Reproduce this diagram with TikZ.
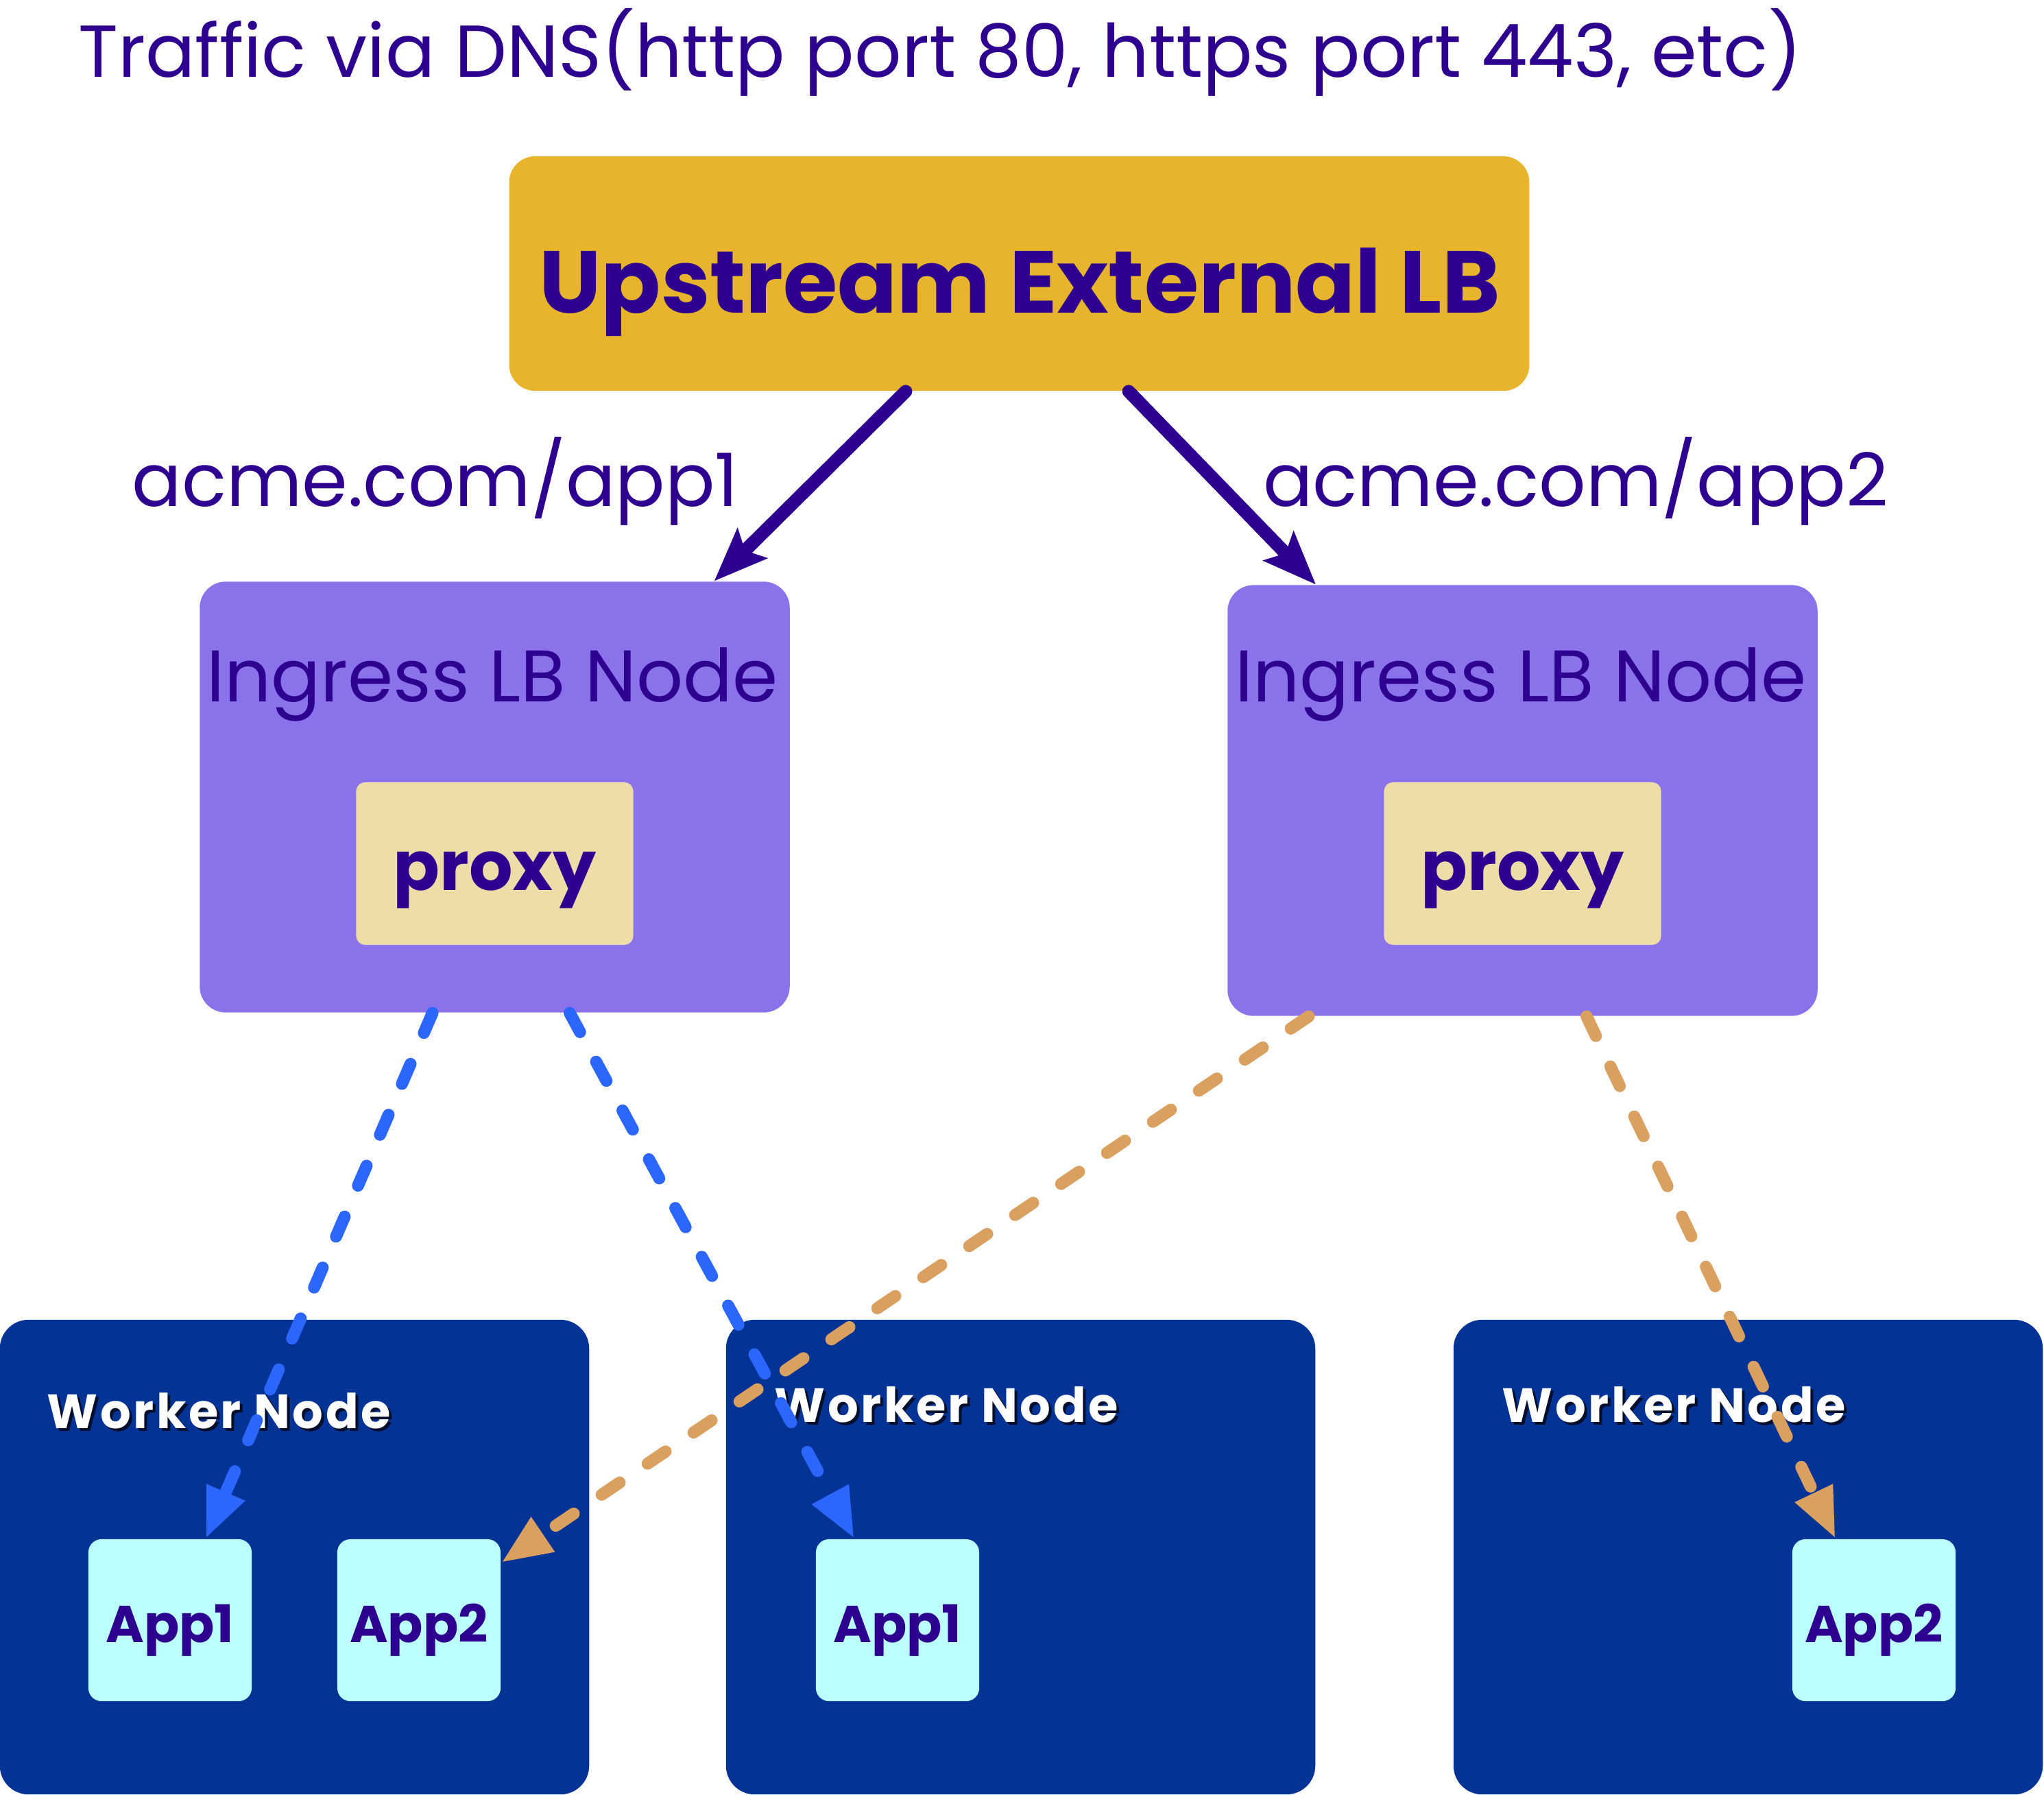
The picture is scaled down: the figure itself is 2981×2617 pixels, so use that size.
\documentclass[tikz,border=0pt]{standalone}
\usepackage{fontspec}
\setmainfont{Poppins}
\usetikzlibrary{arrows.meta}
\definecolor{ink}{HTML}{2D008F}
\definecolor{gold}{HTML}{E8B42B}
\definecolor{ingressc}{HTML}{8A73EA}
\definecolor{proxyc}{HTML}{EDDDA9}
\definecolor{workerc}{HTML}{043396}
\definecolor{appc}{HTML}{BBFFFF}
\definecolor{blued}{HTML}{2B66FF}
\definecolor{orangec}{HTML}{D9A05F}
\tikzset{
  box/.style={draw=none, inner sep=0pt, rectangle},
  upbox/.style={box, fill=gold, rounded corners=0.38cm, minimum width=14.87cm, minimum height=3.42cm},
  ingbox/.style={box, fill=ingressc, rounded corners=0.38cm, minimum width=8.6cm, minimum height=6.28cm},
  proxybox/.style={box, fill=proxyc, rounded corners=0.13cm, minimum width=4.04cm, minimum height=2.37cm},
  workbox/.style={box, fill=workerc, rounded corners=0.42cm, minimum width=8.59cm, minimum height=6.92cm},
  appbox/.style={box, fill=appc, rounded corners=0.19cm, minimum width=2.38cm, minimum height=2.36cm},
  txt/.style={inner sep=0pt, text=ink},
  worktxt/.style={inner sep=0pt, anchor=base west, font=\fontsize{20}{24}\selectfont\bfseries\addfontfeatures{LetterSpace=5}},
  apptxt/.style={txt, anchor=base, font=\fontsize{21.5}{24}\selectfont\bfseries},
  solidarrow/.style={draw=ink, line width=5.4pt, line cap=round, -{Stealth[length=22pt,width=17pt,inset=4pt]}},
  dasharrow/.style={line width=5pt, line cap=round, dash pattern=on 9pt off 14pt},
}
\begin{document}
\begin{tikzpicture}[x=0.01cm,y=-0.01cm]
\useasboundingbox (0,0) rectangle (2981,2617);
% title
\node[txt, anchor=base, font=\fontsize{30.5}{36}\selectfont] (title) at (1371,112) {Traffic via DNS(http port 80, https port 443, etc)};
% upstream
\node[upbox] (up) at (1486.5,399) {};
\node[txt, anchor=base, font=\fontsize{36.5}{44}\selectfont\bfseries] (uptxt) at (1487,456) {Upstream External LB};
% labels
\node[txt, anchor=base, font=\fontsize{30.5}{36}\selectfont] (l1) at (635,738) {acme.com/app1};
\node[txt, anchor=base, font=\fontsize{30.5}{36}\selectfont] (l2) at (2298,738) {acme.com/app2};
% ingress nodes
\node[ingbox] (ing1) at (721.5,1162.5) {};
\node[ingbox] (ing2) at (2220.5,1167.5) {};
\node[txt, anchor=base, font=\fontsize{30.3}{36}\selectfont] (ing1t) at (718,1023) {Ingress LB Node};
\node[txt, anchor=base, font=\fontsize{30.3}{36}\selectfont] (ing2t) at (2218,1023) {Ingress LB Node};
\node[proxybox] (px1) at (721.5,1259.5) {};
\node[proxybox] (px2) at (2220.5,1259.5) {};
\node[txt, anchor=base, font=\fontsize{28.4}{34}\selectfont\bfseries] (px1t) at (721.5,1298) {proxy};
\node[txt, anchor=base, font=\fontsize{28.4}{34}\selectfont\bfseries] (px2t) at (2220.5,1298) {proxy};
% worker nodes
\node[workbox] (w1) at (429.5,2271) {};
\node[workbox] (w2) at (1488.5,2271) {};
\node[workbox] (w3) at (2549.5,2271) {};
\foreach \n/\x/\y in {a/68/2083, b/1129/2074, c/2190/2074}{
  \node[worktxt, text=black, opacity=0.7] (ws\n) at (\x+4,\y+4) {Worker Node};
  \node[worktxt, text=white] (wt\n) at (\x,\y) {Worker Node};
}
% apps
\node[appbox] (a11) at (248,2363) {};
\node[appbox] (a12) at (611,2363) {};
\node[appbox] (a21) at (1309,2363) {};
\node[appbox] (a32) at (2733,2363) {};
\node[apptxt] (a11t) at (248,2395) {App1};
\node[apptxt] (a12t) at (611,2395) {App2};
\node[apptxt] (a21t) at (1309,2395) {App1};
\node[apptxt] (a32t) at (2733,2395) {App2};
% connector endpoints
\coordinate (s1) at ([xshift=-1.655cm]up.south);
\coordinate (e1) at ([xshift=7.505cm]ing1.north west);
\coordinate (s2) at ([xshift=1.595cm]up.south);
\coordinate (e2) at ([xshift=1.295cm]ing2.north west);
\coordinate (b1s) at ([xshift=3.4cm]ing1.south west);
\coordinate (b1e) at ([xshift=0.52cm]a11.north);
\coordinate (b2s) at ([xshift=5.4cm]ing1.south west);
\coordinate (b2e) at ([xshift=-0.63cm]a21.north);
\coordinate (o1s) at ([xshift=1.19cm]ing2.south west);
\coordinate (o1e) at ([yshift=-0.35cm]a12.north east);
\coordinate (o2s) at ([xshift=5.24cm]ing2.south west);
\coordinate (o2e) at ([xshift=-0.56cm]a32.north);
% arrows
\draw[solidarrow] (s1) -- (e1);
\draw[solidarrow] (s2) -- (e2);
\draw[dasharrow, draw=blued, -{Triangle[length=21pt,width=16pt]}] (b1s) -- (b1e);
\draw[dasharrow, draw=blued, -{Triangle[length=21pt,width=16pt]}] (b2s) -- (b2e);
\draw[dasharrow, draw=orangec, -{Triangle[length=21pt,width=16pt]}] (o1s) -- (o1e);
\draw[dasharrow, draw=orangec, -{Triangle[length=21pt,width=16pt]}] (o2s) -- (o2e);
\end{tikzpicture}
\end{document}
